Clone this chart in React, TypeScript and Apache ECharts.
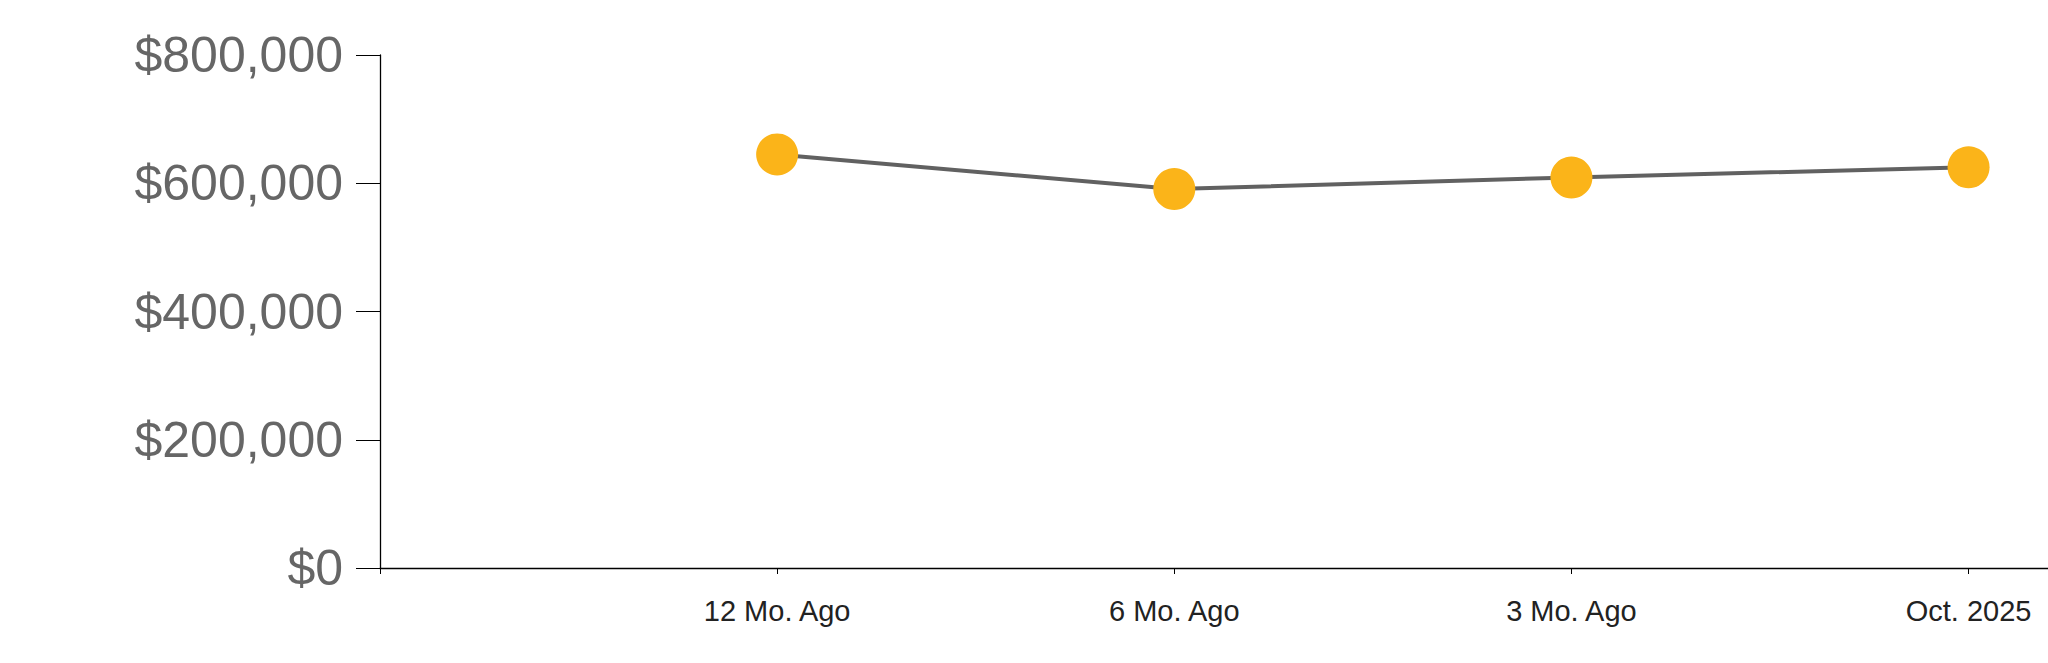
import React, { useEffect, useRef } from "react";
import * as echarts from "echarts";

const categories = ["12 Mo. Ago", "6 Mo. Ago", "3 Mo. Ago", "Oct. 2025"];
const values = [645000, 591000, 609000, 625000];
const yTicks = [0, 200000, 400000, 600000, 800000];

export default function App() {
  const ref = useRef<HTMLDivElement>(null);
  useEffect(() => {
    if (!ref.current) return;
    const chart = echarts.init(ref.current, null, { renderer: "svg" });
    const positions = categories.map((_, i) => i + 1);
    chart.setOption({
      animation: false,
      grid: { left: 380, right: 0, top: 55, bottom: 95, containLabel: false },
      xAxis: {
        type: "value",
        min: 0,
        max: 4.2,
        interval: 1,
        splitLine: { show: false },
        axisLine: { show: true, onZero: false, lineStyle: { color: "#000", width: 1.3 } },
        axisTick: {
          show: true,
          length: 6,
          customValues: [0, ...positions],
          lineStyle: { color: "#000", width: 1 },
        },
        axisLabel: {
          customValues: positions,
          formatter: (v: number) => categories[Math.round(v) - 1] ?? "",
          color: "#222",
          fontSize: 29,
          fontFamily: "Liberation Sans, Arial, sans-serif",
          margin: 28,
        },
      },
      yAxis: {
        type: "value",
        min: yTicks[0],
        max: yTicks[yTicks.length - 1],
        interval: 200000,
        splitLine: { show: false },
        axisLine: { show: true, lineStyle: { color: "#000", width: 1.3 } },
        axisTick: { show: true, length: 24, lineStyle: { color: "#000", width: 1 } },
        axisLabel: {
          color: "#666",
          fontSize: 50,
          fontFamily: "Liberation Sans, Arial, sans-serif",
          margin: 37,
          formatter: (v: number) => "$" + v.toLocaleString("en-US"),
        },
      },
      series: [
        {
          type: "line",
          data: values.map((v, i) => [positions[i], v]),
          symbol: "circle",
          symbolSize: 42,
          lineStyle: { color: "#616161", width: 4 },
          itemStyle: { color: "#FBB419", borderWidth: 0 },
          z: 3,
        },
      ],
    });
    return () => chart.dispose();
  }, []);
  return (
    <div
      ref={ref}
      style={{ position: "fixed", left: 0, top: 0, width: 2048, height: 663, background: "#fff" }}
    />
  );
}
